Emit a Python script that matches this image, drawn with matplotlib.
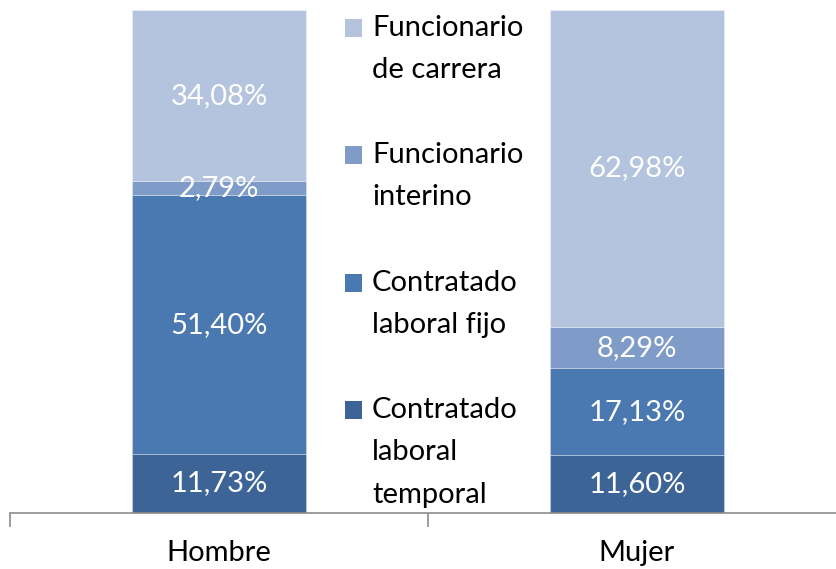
import matplotlib
matplotlib.use("Agg")
import matplotlib.pyplot as plt
from matplotlib.patches import Rectangle

categories = ["Hombre", "Mujer"]
series_names = ["Contratado\nlaboral\ntemporal", "Contratado\nlaboral fijo",
                "Funcionario\ninterino", "Funcionario\nde carrera"]
temporal = [11.73, 11.60]
fijo = [51.40, 17.13]
interino = [2.79, 8.29]
carrera = [34.08, 62.98]
series = [temporal, fijo, interino, carrera]
colors = ["#3D6496", "#4A78B0", "#7F9CC8", "#B4C4DE"]

plt.rcParams['font.family'] = ['Lato', 'DejaVu Sans']
W, H = 836, 569
FS = 21
fig = plt.figure(figsize=(W/100, H/100), dpi=100)
ax = fig.add_axes([10/W, (H-513)/H, (846-10)/W, (513-10)/H])

x = list(range(len(categories)))
bottoms = [0.0]*len(categories)
for vals, col in zip(series, colors):
    ax.bar(x, vals, width=0.414, bottom=bottoms, color=col,
           edgecolor=(1, 1, 1, 0.35), linewidth=0.6)
    for xi, v, b in zip(x, vals, bottoms):
        ax.text(xi, b + v/2, f"{v:.2f}%".replace(".", ","), ha="center", va="center",
                color="white", fontsize=FS)
    bottoms = [b + v for b, v in zip(bottoms, vals)]

ax.set_xlim(-0.5, 1.5)
ax.set_ylim(0, 100)
for s in ["top", "right", "left"]:
    ax.spines[s].set_visible(False)
ax.spines["bottom"].set_color("#8C8C8C")
ax.spines["bottom"].set_linewidth(1.2)
ax.set_yticks([])
ax.set_xticks([-0.5, 0.5, 1.5])
ax.set_xticklabels([])
ax.tick_params(axis="x", length=10, color="#8C8C8C", width=1.2)
for xi, c in zip(x, categories):
    ax.text(xi, -0.079, c, transform=ax.get_xaxis_transform(), ha="center",
            va="center", fontsize=FS, color="black")

# legend (manual, top entry first)
leg_y = [28, 155, 283, 410]
for yc, name, col in zip(leg_y, series_names[::-1], colors[::-1]):
    fig.patches.append(Rectangle((345/W, (H-yc-9)/H), 17/W, 18/H, transform=fig.transFigure,
                                 facecolor=col, edgecolor="none"))
    fig.text(372/W, (H-yc+13)/H, name, ha="left", va="top", fontsize=FS,
             linespacing=1.78, color="black",
             transform=fig.transFigure)

fig.savefig("out.png", dpi=100)
